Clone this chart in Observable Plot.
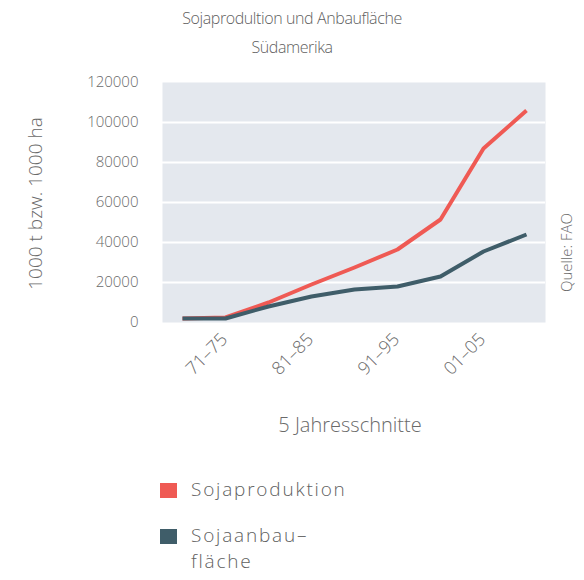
<!DOCTYPE html>
<html>
<head>
<meta charset="utf-8">
<script src="https://cdn.jsdelivr.net/npm/d3@7"></script>
<script src="https://cdn.jsdelivr.net/npm/@observablehq/plot@0.6"></script>
<style>
  html, body { margin: 0; padding: 0; background: #fff; }
  body { width: 584px; height: 580px; position: relative; overflow: hidden;
         font-family: "Open Sans", Lato, sans-serif; font-weight: 300; color: #5f5f5f; }
  #title { position: absolute; left: 0; top: 4px; width: 584px; padding-left: 0px; box-sizing: border-box;
           text-align: center; font-size: 16px; line-height: 29px; letter-spacing: -0.4px; }
  #chart { position: absolute; left: 0; top: 60px; }
  #legend { position: absolute; left: 160px; top: 476px; font-size: 19px; letter-spacing: 1.8px; }
  .item { display: flex; align-items: flex-start; margin-bottom: 20px; }
  .sw { width: 17px; height: 15px; margin-right: 14px; margin-top: 7px; flex: none; }
  .lbl { line-height: 26px; }
</style>
</head>
<body>
<div id="title"></div>
<div id="chart"></div>
<div id="legend"></div>
<script>
const titleLines = ["Sojaprodultion und Anbaufläche", "Südamerika"];
const periods = ["66–70", "71–75", "76–80", "81–85", "86–90", "91–95", "96–00", "01–05", "06–10"];
const tickPeriods = ["71–75", "81–85", "91–95", "01–05"];
const production = [2000, 2500, 10000, 19000, 27500, 36500, 51500, 87000, 106000];
const area = [2000, 2000, 8000, 13000, 16500, 18000, 23000, 35500, 44000];
const yTicks = [0, 20000, 40000, 60000, 80000, 100000, 120000];
const gridTicks = [20000, 40000, 60000, 80000, 100000];
const seriesNames = ["Sojaproduktion", "Sojaanbau–\nfläche"];
const seriesColors = ["#ef5a54", "#3f5d69"];
const yLabel = "1000 t bzw. 1000 ha";
const xLabel = "5 Jahresschnitte";
const source = "Quelle: FAO";

const rows = [
  ...periods.map((p, i) => ({period: p, value: production[i], series: seriesNames[0]})),
  ...periods.map((p, i) => ({period: p, value: area[i], series: seriesNames[1]}))
];

document.getElementById("title").innerHTML = titleLines.map(t => `<div>${t}</div>`).join("");

const textColor = "#6a6a6a";
const chart = Plot.plot({
  width: 584,
  height: 390,
  marginTop: 22,
  marginBottom: 128,
  marginLeft: 162,
  marginRight: 39,
  style: {fontFamily: "'Open Sans', Lato, sans-serif", fontWeight: 300, color: textColor, background: "transparent"},
  x: {type: "point", domain: periods, padding: 0.4},
  y: {domain: [0, 120000]},
  color: {domain: seriesNames, range: seriesColors},
  marks: [
    Plot.frame({fill: "#e4e8ee", stroke: "none"}),
    Plot.gridY(gridTicks, {stroke: "#ffffff", strokeOpacity: 1, strokeWidth: 2}),
    Plot.axisY({ticks: yTicks, tickSize: 0, tickPadding: 24, tickFormat: d3.format("d"), fontSize: 15, label: null}),
    Plot.axisX({ticks: tickPeriods, tickSize: 0, tickPadding: 14, tickRotate: -45, dx: -1, fontSize: 18, letterSpacing: 2.6, label: null}),
    Plot.lineY(rows, {x: "period", y: "value", stroke: "series", strokeWidth: 4, strokeLinejoin: "round", strokeLinecap: "butt"}),
    Plot.text([yLabel], {frameAnchor: "left", textAnchor: "middle", rotate: -90, dx: -127, dy: 1, fontSize: 19, letterSpacing: 2.9, fill: textColor}),
    Plot.text([source], {frameAnchor: "right", textAnchor: "middle", rotate: -90, dx: 22, dy: 50, fontSize: 15, letterSpacing: 1, fill: textColor}),
    Plot.text([xLabel], {frameAnchor: "bottom", dy: 103, dx: -4, fontSize: 20, letterSpacing: 2, fill: textColor, lineAnchor: "middle"})
  ]
});
document.getElementById("chart").appendChild(chart);

document.getElementById("legend").innerHTML = seriesNames.map((n, i) =>
  `<div class="item"><div class="sw" style="background:${seriesColors[i]}"></div><div class="lbl">${n.replace("\n", "<br>")}</div></div>`
).join("");
</script>
</body>
</html>
